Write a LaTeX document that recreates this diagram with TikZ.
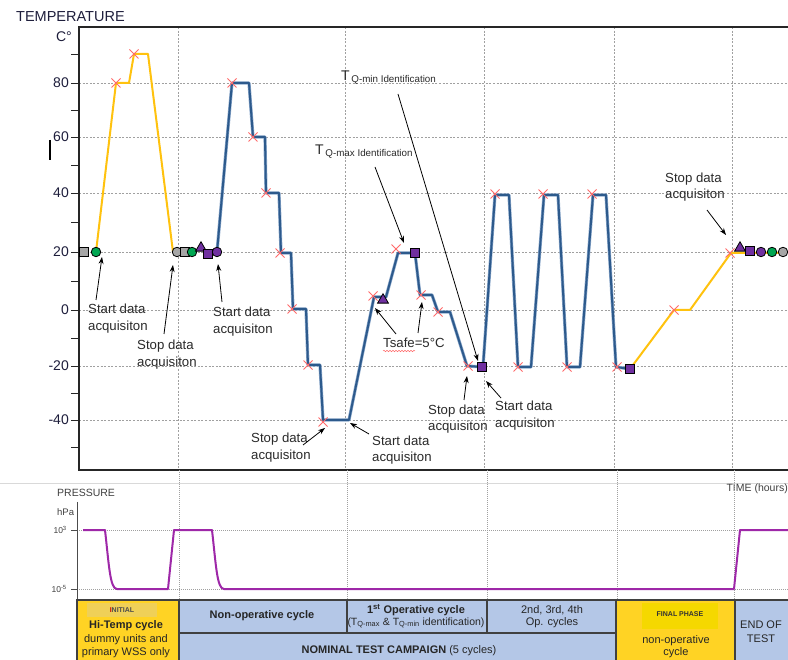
\documentclass[tikz,border=0pt]{standalone}
\usepackage{fontspec}
\setmainfont{Liberation Sans}
\usetikzlibrary{arrows.meta,shapes.geometric,decorations.pathmorphing}
\definecolor{tyel}{HTML}{FFC20E}
\definecolor{tblue}{HTML}{2D5A8C}
\definecolor{tbluel}{HTML}{8DA9CC}
\definecolor{ppl}{HTML}{7030A0}
\definecolor{grn}{HTML}{00A651}
\definecolor{gry}{HTML}{A6A6A6}
\definecolor{xred}{HTML}{FF6B6B}
\definecolor{pcurve}{HTML}{9E28A8}
\definecolor{cellb}{HTML}{B4C7E7}
\definecolor{celly}{HTML}{FFD324}
\definecolor{axcol}{HTML}{1E1E3C}
\definecolor{anncol}{HTML}{2A2A2A}
\definecolor{gridc}{HTML}{A0A0A0}
\definecolor{inibox}{HTML}{EFD058}
\definecolor{finbox}{HTML}{F5D800}
\begin{document}
\begin{tikzpicture}[x=1pt,y=-1pt,
  ticklab/.style={font=\fontsize{14}{14}\selectfont, text=axcol, anchor=east, inner sep=0pt},
  ann/.style={font=\fontsize{13.2}{16.5}\selectfont, text=anncol, align=left, anchor=west, inner sep=0pt},
  arr/.style={-{Stealth[length=7pt,width=5pt]}, line width=0.8pt, black},
  gridd/.style={gridc, line width=0.6pt, dash pattern=on 2pt off 1.6pt},
  gridp/.style={gridc, line width=0.6pt, dash pattern=on 1pt off 1pt},
  crossmk/.style={xred, line width=0.9pt},
  sqm/.style={draw=black, line width=0.8pt, rectangle, minimum size=9pt, inner sep=0pt},
  cim/.style={draw=black, line width=0.8pt, circle, minimum size=9.5pt, inner sep=0pt},
  trm/.style={draw=black, line width=0.8pt, regular polygon, regular polygon sides=3, minimum size=12.5pt, inner sep=0pt, fill=ppl},
  cellbox/.style={draw=black!75, line width=1.1pt},
  tabtxt/.style={font=\fontsize{11}{13}\selectfont, text=black!85, inner sep=0pt, align=center},
  tabbold/.style={font=\fontsize{11}{13}\selectfont\bfseries, text=black!85, inner sep=0pt, align=center},
  ptxt/.style={font=\fontsize{10.5}{12}\selectfont, text=black!75, inner sep=0pt}
]
\useasboundingbox (0,0) rectangle (788,660);
\fill[white] (0,0) rectangle (788,660);

% ---------------- temperature panel ----------------
\node[font=\fontsize{14.5}{15}\selectfont, text=axcol, anchor=west, inner sep=0pt] (ttl) at (16,17) {TEMPERATURE};
\node[ticklab] (unitc) at (72,37) {C°};
\draw[black, line width=2.2pt] (50,140) -- (50,160);

% grid
\foreach \yy in {83,137,193,252,310,366,420}
  \draw[gridd] (79,\yy) -- (788,\yy);
\foreach \xx in {178,345,484,614,732}
  \draw[gridd] (\xx,27) -- (\xx,470);

% frame and axis
\draw[black!85, line width=1.1pt] (788,27) -- (79,27) -- (79,470) -- (788,470);
\foreach \yy in {54,83,110,137,165,193,222,252,281,310,338,366,393,420,447}
  \draw[black!85, line width=0.9pt] (71,\yy) -- (79,\yy);
\node[ticklab] (l80) at (69,83) {80};
\node[ticklab] (l60) at (69,137) {60};
\node[ticklab] (l40) at (69,193) {40};
\node[ticklab] (l20) at (69,252) {20};
\node[ticklab] (l0) at (69,310) {0};
\node[ticklab] (lm20) at (69,366) {-20};
\node[ticklab] (lm40) at (69,420) {-40};

% yellow curves
\draw[tyel, line width=2pt, line join=round] (96,252) -- (116,83) -- (129,83) -- (134,54) -- (148,54) -- (173,252);
\draw[tyel, line width=2pt, line join=round] (630,369) -- (674,310) -- (690,310) -- (731,253) -- (786,253);

% blue curve
\def\bluepath{(217,252) -- (232,83) -- (249,83) -- (253,137) -- (265,137) -- (266,193) -- (279,193) -- (281,253) -- (291,253) -- (293,309) -- (306,309) -- (308,365) -- (320,365) -- (323,420) -- (349,420) -- (374,297) -- (386,297) -- (398,253) -- (415,253) -- (420,295) -- (432,295) -- (438,312) -- (450,312) -- (467,366) -- (483,367) -- (495,195) -- (509,195) -- (518,367) -- (531,367) -- (544,195) -- (558,195) -- (567,367) -- (580,367) -- (593,195) -- (606,195) -- (616,367) -- (630,369)}
\draw[tbluel, line width=3.2pt, line join=round] \bluepath;
\draw[tblue, line width=2pt, line join=round] \bluepath;

% red crosses
\foreach \xx/\yy in {116/83,134/54,232/83,253/137,266/193,280/253,292/309,308/365,323/422,373/296,396/249,421/295,438/312,468/366,495/194,518/367,543/194,567/367,592/194,617/367,674/310,730/253}
  \draw[crossmk] (\xx,\yy) ++(-4.5,-4.5) -- ++(9,9) ++(-9,0) -- ++(9,-9);

% markers
\node[sqm, fill=gry] (m1) at (84,252) {};
\node[cim, fill=grn] (m2) at (96,252) {};
\node[cim, fill=gry] (m3) at (177,252) {};
\node[sqm, fill=gry] (m4) at (185,252) {};
\node[cim, fill=grn] (m5) at (192,252) {};
\node[trm] (m6) at (201,248) {};
\node[sqm, fill=ppl] (m7) at (208,254) {};
\node[cim, fill=ppl] (m8) at (217,252) {};
\node[trm] (m9) at (383,300) {};
\node[sqm, fill=ppl] (m10) at (415,253) {};
\node[sqm, fill=ppl] (m11) at (482,367) {};
\node[sqm, fill=ppl] (m12) at (630,369) {};
\node[trm] (m13) at (740,248) {};
\node[sqm, fill=ppl] (m14) at (750,251) {};
\node[cim, fill=ppl] (m15) at (761,252) {};
\node[cim, fill=grn] (m16) at (772,252) {};
\node[cim, fill=gry] (m17) at (783,252) {};

% annotations
\node[ann] (a1) at (88,318.5) {Start data\\acquisiton};
\node[ann] (a2) at (137,354.5) {Stop data\\acquisiton};
\node[ann] (a3) at (213,321.5) {Start data\\acquisiton};
\node[ann] (a4) at (251,447.5) {Stop data\\acquisiton};
\node[ann] (a5) at (372,450) {Start data\\acquisiton};
\node[ann] (a6) at (383,343) {Tsafe=5°C};
\node[ann] (a9) at (428,419) {Stop data\\acquisiton};
\node[ann] (a10) at (495,415.5) {Start data\\acquisiton};
\node[ann] (a11) at (665,187) {Stop data\\acquisiton};
\node[anchor=west, inner sep=0pt, text=anncol] (a7) at (315,152)
  {{\fontsize{14}{14}\selectfont T}\,\raisebox{-2pt}{\fontsize{9.8}{10}\selectfont Q-max Identification}};
\node[anchor=west, inner sep=0pt, text=anncol] (a8) at (341,78)
  {{\fontsize{14}{14}\selectfont T}\,\raisebox{-2pt}{\fontsize{9.8}{10}\selectfont Q-min Identification}};
\draw[xred, line width=0.5pt, decorate, decoration={snake, amplitude=0.7pt, segment length=3pt}] (383,351) -- (415,351);

\coordinate (t1) at (96,300);  \coordinate (h1) at (102,257);
\coordinate (t2) at (164,334); \coordinate (h2) at (173,265);
\coordinate (t3) at (222,302); \coordinate (h3) at (218,264);
\coordinate (t4) at (303,445); \coordinate (h4) at (325,428);
\coordinate (t5) at (369,434); \coordinate (h5) at (350,423);
\coordinate (t6) at (396,334); \coordinate (h6) at (375,308);
\coordinate (t6b) at (418,333); \coordinate (h6b) at (422,302);
\coordinate (t7) at (375,167); \coordinate (h7) at (404,243);
\coordinate (t8) at (398,94);  \coordinate (h8) at (478,361);
\coordinate (t9) at (464,400); \coordinate (h9) at (467,376);
\coordinate (t10) at (501,398); \coordinate (h10) at (486,381);
\coordinate (t11) at (707,210); \coordinate (h11) at (726,235);
\foreach \i in {1,2,3,4,5,6,6b,7,8,9,10,11}
  \draw[arr] (t\i) -- (h\i);

% ---------------- pressure panel ----------------
\draw[black!15, line width=0.8pt] (0,483) -- (788,483);
\node[ptxt, anchor=west] (pr) at (57,493) {PRESSURE};
\node[ptxt, anchor=west, font=\fontsize{9.5}{10}\selectfont] (hpa) at (57,512) {hPa};
\node[ptxt, anchor=east] (tm) at (788,489) {TIME (hours)};
\foreach \xx in {179,347,487,617,734}
  \draw[gridp] (\xx,470) -- (\xx,600);
\draw[gridp] (77,530) -- (788,530);
\draw[gridp] (77,589) -- (788,589);
\draw[black!70, line width=0.9pt] (77,502) -- (77,600);
\draw[black!70, line width=0.8pt] (71,530) -- (77,530);
\draw[black!70, line width=0.8pt] (71,589) -- (77,589);
\node[ptxt, anchor=east, font=\fontsize{8.5}{9}\selectfont] (p3) at (67,530) {10\textsuperscript{3}};
\node[ptxt, anchor=east, font=\fontsize{8.5}{9}\selectfont] (p5) at (67,589) {10\textsuperscript{-5}};
\draw[pcurve, line width=2pt, line join=round] (83,530) -- (105,530) .. controls (109,565) and (110,589) .. (117,589) -- (168,589) -- (174,530) -- (212,530) .. controls (216,565) and (217,589) .. (224,589) -- (734,589) -- (740,530) -- (788,530);

% ---------------- table ----------------
\fill[celly] (77,600) rectangle (179,662);
\fill[cellb] (179,600) rectangle (616,662);
\fill[celly] (616,600) rectangle (735,662);
\fill[cellb] (735,600) rectangle (790,662);
\draw[cellbox] (77,662) -- (77,600) -- (790,600);
\draw[cellbox] (179,600) -- (179,662);
\draw[cellbox] (347,600) -- (347,633);
\draw[cellbox] (487,600) -- (487,633);
\draw[cellbox] (179,633) -- (616,633);
\draw[cellbox] (616,600) -- (616,662);
\draw[cellbox] (735,600) -- (735,662);

\fill[inibox] (87,603) rectangle (157,617);
\node[font=\fontsize{7}{8}\selectfont\bfseries, text=black!70, inner sep=0pt] (ini) at (122,610) {{\color{red!80!black}I}NITIAL};
\node[tabbold] (c1a) at (126,626) {Hi-Temp cycle};
\node[tabtxt] (c1b) at (126,640) {dummy units and};
\node[tabtxt] (c1c) at (126,653) {primary WSS only};
\node[tabbold] (c2) at (262,616) {Non-operative cycle};
\node[tabbold] (c3a) at (416,610) {1\textsuperscript{st} Operative cycle};
\node[tabtxt, font=\fontsize{10.5}{12}\selectfont] (c3b) at (416,623) {(T\textsubscript{Q-max} \& T\textsubscript{Q-min} identification)};
\node[tabtxt] (c4a) at (552,610) {2nd, 3rd, 4th};
\node[tabtxt] (c4b) at (552,623) {Op. cycles};
\node[tabtxt] (c5) at (399,651) {\textbf{NOMINAL TEST CAMPAIGN} (5 cycles)};
\fill[finbox] (642,603) rectangle (718,629);
\node[font=\fontsize{7}{8}\selectfont\bfseries, text=black!80, inner sep=0pt] (fin) at (680,614) {FINAL PHASE};
\node[tabtxt] (c6a) at (676,641) {non-operative};
\node[tabtxt] (c6b) at (676,653) {cycle};
\node[tabtxt, font=\fontsize{11}{13}\selectfont] (c7a) at (761,625) {END OF};
\node[tabtxt, font=\fontsize{11}{13}\selectfont] (c7b) at (761,639) {TEST};
\end{tikzpicture}
\end{document}
